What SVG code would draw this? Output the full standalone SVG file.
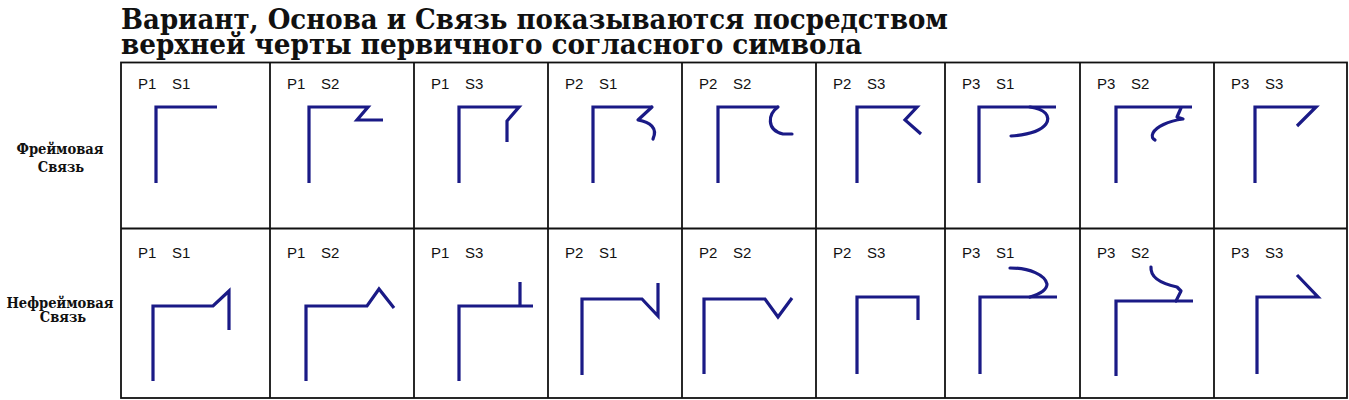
<svg xmlns="http://www.w3.org/2000/svg" width="1349" height="400" viewBox="0 0 1349 400">
<style>
.title{font-family:"DejaVu Serif Condensed","DejaVu Serif","Liberation Serif",serif;font-weight:bold;font-size:28px;fill:#111;}
.row{font-family:"DejaVu Serif Condensed","DejaVu Serif","Liberation Serif",serif;font-weight:bold;font-size:14.5px;fill:#111;text-anchor:middle;}
.lbl{font-family:"Liberation Sans",Arial,sans-serif;font-size:15px;fill:#111;}
.grid{fill:none;stroke:#111;stroke-width:1.8;}
.g{fill:none;stroke:#1a1a86;stroke-width:3.2;stroke-linejoin:miter;stroke-linecap:butt;}
.c{fill:none;stroke:#1a1a86;stroke-width:3.2;stroke-linecap:round;stroke-linejoin:round;}
</style>
<rect width="1349" height="400" fill="#fff"/>
<g id="title">
<text class="title" x="121" y="29" textLength="827" lengthAdjust="spacingAndGlyphs">Вариант, Основа и Связь показываются посредством</text>
<text class="title" x="121" y="54" textLength="741" lengthAdjust="spacingAndGlyphs">верхней черты первичного согласного символа</text>
</g>
<g id="grid" class="grid">
<rect x="121" y="62.5" width="1226" height="335.5"/>
<line x1="121" y1="228.5" x2="1347" y2="228.5"/>
<line x1="270" y1="62.5" x2="270" y2="398"/>
<line x1="414" y1="62.5" x2="414" y2="398"/>
<line x1="548" y1="62.5" x2="548" y2="398"/>
<line x1="682" y1="62.5" x2="682" y2="398"/>
<line x1="816" y1="62.5" x2="816" y2="398"/>
<line x1="945" y1="62.5" x2="945" y2="398"/>
<line x1="1080" y1="62.5" x2="1080" y2="398"/>
<line x1="1214" y1="62.5" x2="1214" y2="398"/>
</g>
<g id="row-labels">
<text class="row" x="60" y="154" textLength="87" lengthAdjust="spacingAndGlyphs">Фреймовая</text>
<text class="row" x="61" y="172">Связь</text>
<text class="row" x="60" y="308" textLength="107" lengthAdjust="spacingAndGlyphs">Нефреймовая</text>
<text class="row" x="63" y="322">Связь</text>
</g>
<g id="r1c1"><text class="lbl" y="89"><tspan x="138">P1</tspan><tspan x="172">S1</tspan></text><path class="g" d="M156,183 V107 H217"/></g>
<g id="r1c2"><text class="lbl" y="89"><tspan x="287">P1</tspan><tspan x="321">S2</tspan></text><path class="g" d="M309,183 V107 H368 L357,120 H383"/></g>
<g id="r1c3"><text class="lbl" y="89"><tspan x="431">P1</tspan><tspan x="465">S3</tspan></text><path class="g" d="M459,183 V107 H519 L507,121 V142"/></g>
<g id="r1c4"><text class="lbl" y="89"><tspan x="565">P2</tspan><tspan x="599">S1</tspan></text><path class="g" d="M593,183 V107 H652"/><path class="c" d="M652,107 L638,120 C650,122 658,128 653,139"/></g>
<g id="r1c5"><text class="lbl" y="89"><tspan x="699">P2</tspan><tspan x="733">S2</tspan></text><path class="g" d="M718,183 V107 H778"/><path class="c" d="M778,107 C768,114 766,130 783,134 H792"/></g>
<g id="r1c6"><text class="lbl" y="89"><tspan x="833">P2</tspan><tspan x="867">S3</tspan></text><path class="g" d="M857,183 V107 H917 L905,120 L921,134"/></g>
<g id="r1c7"><text class="lbl" y="89"><tspan x="962">P3</tspan><tspan x="996">S1</tspan></text><path class="g" d="M979,183 V107 H1056"/><path class="c" d="M1030,107 C1045,109 1051,116 1046,124 C1040,132 1025,135 1011,136"/></g>
<g id="r1c8"><text class="lbl" y="89"><tspan x="1097">P3</tspan><tspan x="1131">S2</tspan></text><path class="g" d="M1116,183 V107 H1192"/><path class="c" d="M1181,108 L1177,117 L1183,119 C1168,121 1156,127 1153,133 C1151,137 1153,139 1155,140"/></g>
<g id="r1c9"><text class="lbl" y="89"><tspan x="1231">P3</tspan><tspan x="1265">S3</tspan></text><path class="g" d="M1255,183 V107 H1316 L1297,126"/></g>
<g id="r2c1"><text class="lbl" y="258"><tspan x="138">P1</tspan><tspan x="172">S1</tspan></text><path class="g" d="M153,381 V306 H213 L229,291 V330"/></g>
<g id="r2c2"><text class="lbl" y="258"><tspan x="287">P1</tspan><tspan x="321">S2</tspan></text><path class="g" d="M306,381 V306 H367 L379,289 L394,308"/></g>
<g id="r2c3"><text class="lbl" y="258"><tspan x="431">P1</tspan><tspan x="465">S3</tspan></text><path class="g" d="M459,381 V306 H533 M520,282 V306"/></g>
<g id="r2c4"><text class="lbl" y="258"><tspan x="565">P2</tspan><tspan x="599">S1</tspan></text><path class="g" d="M582,375 V299 H642 L658,316 V283"/></g>
<g id="r2c5"><text class="lbl" y="258"><tspan x="699">P2</tspan><tspan x="733">S2</tspan></text><path class="g" d="M704,374 V299 H765 L778,317 L792,298"/></g>
<g id="r2c6"><text class="lbl" y="258"><tspan x="833">P2</tspan><tspan x="867">S3</tspan></text><path class="g" d="M857,374 V297 H918 V320"/></g>
<g id="r2c7"><text class="lbl" y="258"><tspan x="962">P3</tspan><tspan x="996">S1</tspan></text><path class="g" d="M980,374 V297 H1057"/><path class="c" d="M1010,268 C1030,268 1045,275 1047,284 C1047,290 1040,294 1030,297"/></g>
<g id="r2c8"><text class="lbl" y="258"><tspan x="1097">P3</tspan><tspan x="1131">S2</tspan></text><path class="g" d="M1116,376 V301 H1193"/><path class="c" d="M1151,267 C1150,279 1163,284 1177,287 L1181,291 L1176,301"/></g>
<g id="r2c9"><text class="lbl" y="258"><tspan x="1231">P3</tspan><tspan x="1265">S3</tspan></text><path class="g" d="M1257,374 V297 H1318 L1297,275"/></g>
</svg>
